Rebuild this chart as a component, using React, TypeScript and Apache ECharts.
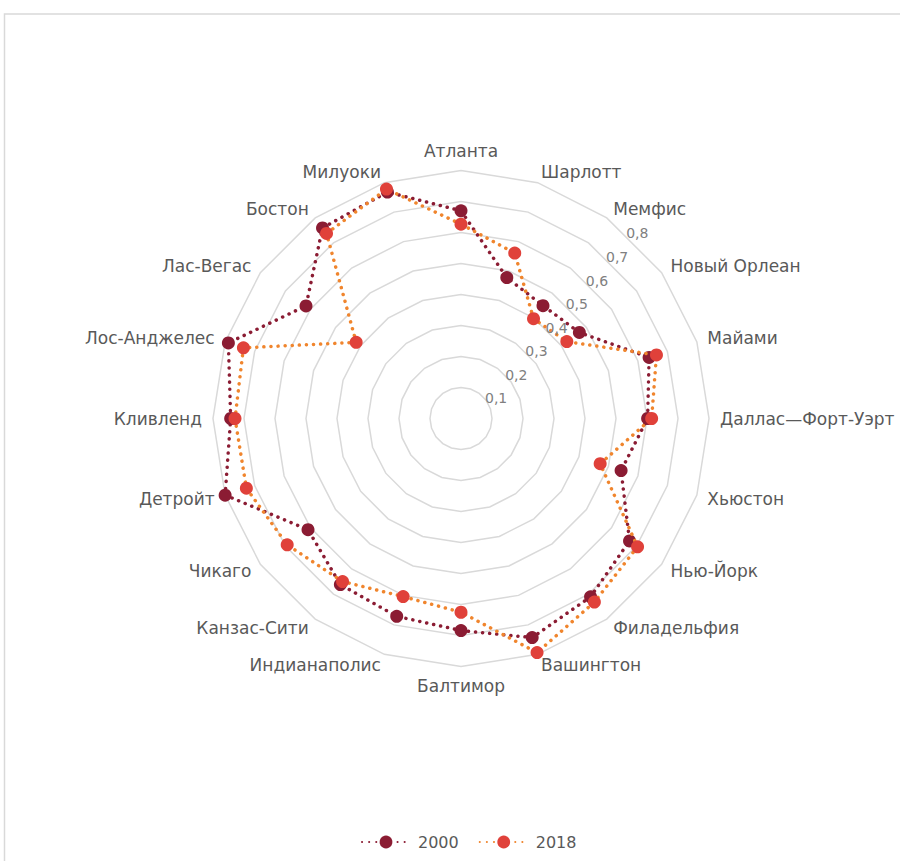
import React, { useEffect, useRef } from "react";
import * as echarts from "echarts";

// Categories in clockwise order starting from the top
const categories = [
  "Атланта", "Шарлотт", "Мемфис", "Новый Орлеан", "Майами",
  "Даллас—Форт-Уэрт", "Хьюстон", "Нью-Йорк", "Филадельфия", "Вашингтон",
  "Балтимор", "Индианаполис", "Канзас-Сити", "Чикаго", "Детройт",
  "Кливленд", "Лос-Анджелес", "Лас-Вегас", "Бостон", "Милуоки",
];

const values2000 = [
  0.67, 0.478, 0.45, 0.472, 0.638,
  0.602, 0.543, 0.672, 0.711, 0.743,
  0.684, 0.671, 0.662, 0.61, 0.8,
  0.743, 0.789, 0.618, 0.76, 0.768,
];

const values2018 = [
  0.627, 0.561, 0.398, 0.422, 0.663,
  0.615, 0.472, 0.704, 0.732, 0.794,
  0.625, 0.604, 0.65, 0.693, 0.728,
  0.729, 0.738, 0.418, 0.738, 0.778,
];

const seriesNames = ["2000", "2018"];
const axisMin = 0;
const axisMax = 0.8;
const axisStep = 0.1;

const FONT = "DejaVu Sans";

// ECharts radar lays indicators counter-clockwise; reorder to draw clockwise
const toClockwise = <T,>(arr: T[]): T[] => [arr[0], ...arr.slice(1).reverse()];

export default function App() {
  const ref = useRef<HTMLDivElement>(null);

  useEffect(() => {
    document.body.style.margin = "0";
    if (!ref.current) return;
    const chart = echarts.init(ref.current, undefined, { renderer: "svg" });

    const cx = 461;
    const cy = 418.5;
    const R = 248;

    const darkColor = "#8B1C33";
    const redColor = "#E0413A";
    const orangeLine = "#F0852D";
    const dotted = [0.1, 7];

    const option: any = {
      animation: false,
      backgroundColor: "#ffffff",
      textStyle: { fontFamily: FONT },
      graphic: [
        {
          type: "rect",
          shape: { x: 4.5, y: 14, width: 1000, height: 1000 },
          style: { fill: "none", stroke: "#D9D9D9", lineWidth: 1.5 },
          silent: true,
        },
      ],
      legend: {
        data: seriesNames,
        left: 356,
        top: 829,
        itemWidth: 48,
        itemHeight: 16,
        itemGap: 20,
        textStyle: { color: "#595959", fontSize: 16, fontFamily: FONT, padding: [0, 0, 0, 3] },
      },
      grid: { show: false, left: 0, top: 0, width: 1, height: 1 },
      xAxis: { type: "category", show: false, data: [] },
      yAxis: { type: "value", show: false },
      polar: { center: [cx, cy], radius: R },
      angleAxis: {
        type: "value",
        min: 0,
        max: 360,
        startAngle: 49.4,
        show: false,
      },
      radiusAxis: {
        type: "value",
        min: axisMin,
        max: axisMax,
        interval: axisStep,
        axisLine: { show: false },
        axisTick: { show: false },
        splitLine: { show: false },
        axisLabel: {
          color: "#808080",
          fontSize: 14,
          fontFamily: FONT,
          margin: -5,
          align: "left",
          verticalAlign: "middle",
          formatter: (v: number) =>
            v === 0 ? "" : v.toFixed(1).replace(".", ","),
        },
        z: 10,
      },
      radar: {
        center: [cx, cy],
        radius: R,
        startAngle: 90,
        shape: "polygon",
        splitNumber: 8,
        indicator: toClockwise(categories).map((name) => ({
          name,
          min: axisMin,
          max: axisMax,
        })),
        axisName: {
          color: "#595959",
          fontSize: 17,
          fontFamily: FONT,
        },
        nameGap: 11,
        axisLine: { show: false },
        axisTick: { show: false },
        axisLabel: { show: false },
        splitArea: { show: false },
        splitLine: { lineStyle: { color: "#D9D9D9", width: 1.5 } },
      },
      series: [
        {
          type: "line",
          name: seriesNames[0],
          data: [],
          symbol: "circle",
          symbolSize: 13,
          itemStyle: { color: darkColor },
          lineStyle: { color: darkColor, width: 3.5, type: dotted, cap: "round" },
        },
        {
          type: "line",
          name: seriesNames[1],
          data: [],
          symbol: "circle",
          symbolSize: 13,
          itemStyle: { color: redColor },
          lineStyle: { color: orangeLine, width: 3.5, type: dotted, cap: "round" },
        },
        {
          type: "radar",
          name: seriesNames[0],
          symbol: "circle",
          symbolSize: 13,
          z: 3,
          itemStyle: { color: darkColor },
          lineStyle: { color: darkColor, width: 3.5, type: dotted, cap: "round" },
          data: [{ name: seriesNames[0], value: toClockwise(values2000) }],
        },
        {
          type: "radar",
          name: seriesNames[1],
          symbol: "circle",
          symbolSize: 13,
          z: 4,
          itemStyle: { color: redColor },
          lineStyle: { color: orangeLine, width: 3.5, type: dotted, cap: "round" },
          data: [{ name: seriesNames[1], value: toClockwise(values2018) }],
        },
      ],
    };

    chart.setOption(option);
    return () => chart.dispose();
  }, []);

  return <div ref={ref} style={{ width: 900, height: 861 }} />;
}
